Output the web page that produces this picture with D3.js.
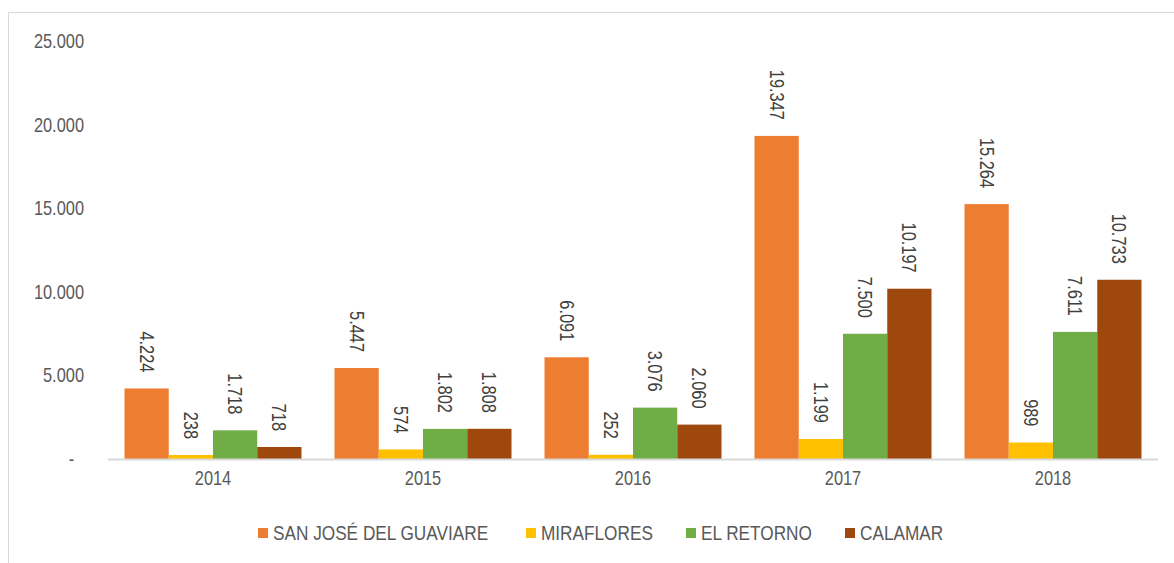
<!DOCTYPE html>
<html>
<head>
<meta charset="utf-8">
<script src="https://cdn.jsdelivr.net/npm/d3@7"></script>
<style>
  html, body { margin: 0; padding: 0; background: #fff; }
  svg { display: block; }
  text { font-family: "Liberation Sans", Arial, sans-serif; }
</style>
</head>
<body>
<svg id="chart" width="1174" height="563"></svg>
<script>
// Annual values per municipality
const years = ["2014", "2015", "2016", "2017", "2018"];
const seriesNames = ["SAN JOSÉ DEL GUAVIARE", "MIRAFLORES", "EL RETORNO", "CALAMAR"];
const sanJose    = [4224, 5447, 6091, 19347, 15264];
const miraflores = [238, 574, 252, 1199, 989];
const elRetorno  = [1718, 1802, 3076, 7500, 7611];
const calamar    = [718, 1808, 2060, 10197, 10733];
const yTicks = [0, 5000, 10000, 15000, 20000, 25000];

const seriesValues = [sanJose, miraflores, elRetorno, calamar];
const colors = ["#ED7D31", "#FFC000", "#70AD47", "#9E480E"];

// condensed lettering: regular sans squeezed along the reading direction
const narrow = "scale(0.82,1)";

const svg = d3.select("#chart");

// outer frame (top and left edges visible)
svg.append("rect")
  .attr("x", 8.5).attr("y", 12.5)
  .attr("width", 1200).attr("height", 600)
  .attr("fill", "none").attr("stroke", "#d9d9d9").attr("stroke-width", 1);

const plot = { left: 108, right: 1158, top: 41.5, bottom: 459 };

const x0 = d3.scaleBand().domain(years).range([plot.left, plot.right]).padding(0);
const inner = 16.5;
const x1 = d3.scaleBand().domain(seriesNames)
  .range([inner, x0.bandwidth() - inner]).padding(0);
const y = d3.scaleLinear().domain([0, 25000]).range([plot.bottom, plot.top]);

const fmt = v => d3.format(",")(v).replace(/,/g, ".");

// y axis labels
const yAxis = d3.axisLeft(y).tickValues(yTicks)
  .tickSize(0).tickPadding(0)
  .tickFormat(d => d === 0 ? "-" : fmt(d));
const gy = svg.append("g").attr("transform", "translate(84,0)").call(yAxis);
gy.select(".domain").remove();
gy.selectAll("text")
  .attr("font-size", 20)
  .attr("fill", "#595959")
  .attr("font-family", null)
  .attr("transform", narrow)
  .attr("dx", d => d === 0 ? -12 : 0);

// bars
const groups = svg.append("g").selectAll("g")
  .data(years)
  .join("g")
  .attr("transform", d => `translate(${x0(d)},0)`);

const cells = (d, i) => seriesNames.map((s, k) => ({ s, k, v: seriesValues[k][i] }));

groups.selectAll("rect")
  .data(cells)
  .join("rect")
  .attr("x", d => x1(d.s))
  .attr("width", x1.bandwidth())
  .attr("y", d => y(d.v))
  .attr("height", d => y(0) - y(d.v))
  .attr("fill", d => colors[d.k]);

// value labels, rotated to read downward
groups.selectAll("text.val")
  .data(cells)
  .join("text")
  .attr("class", "val")
  .attr("transform", d => `translate(${x1(d.s) + x1.bandwidth() / 2},${y(d.v) - 16}) rotate(90) ${narrow}`)
  .attr("text-anchor", "end")
  .attr("dy", "0.35em")
  .attr("font-size", 20)
  .attr("fill", "#404040")
  .text(d => fmt(d.v));

// baseline
svg.append("line")
  .attr("x1", plot.left).attr("x2", plot.right)
  .attr("y1", y(0) + 0.5).attr("y2", y(0) + 0.5)
  .attr("stroke", "#d9d9d9").attr("stroke-width", 2);

// category labels
const xAxis = d3.axisBottom(x0).tickSize(0).tickPadding(0);
const gx = svg.append("g").attr("transform", `translate(0,${y(0) + 12})`).call(xAxis);
gx.select(".domain").remove();
gx.selectAll("text")
  .attr("font-size", 20)
  .attr("fill", "#595959")
  .attr("font-family", null)
  .attr("transform", narrow);

// legend
const legendX = [258, 526, 686, 845];
const legend = svg.append("g").selectAll("g")
  .data(seriesNames)
  .join("g")
  .attr("transform", (d, i) => `translate(${legendX[i]},533)`);
legend.append("rect")
  .attr("x", 0).attr("y", -5).attr("width", 10).attr("height", 10)
  .attr("fill", (d, i) => colors[i]);
legend.append("text")
  .attr("transform", `translate(15,0) ${narrow}`)
  .attr("dy", "0.35em")
  .attr("font-size", 21)
  .attr("fill", "#595959")
  .text(d => d);
</script>
</body>
</html>
